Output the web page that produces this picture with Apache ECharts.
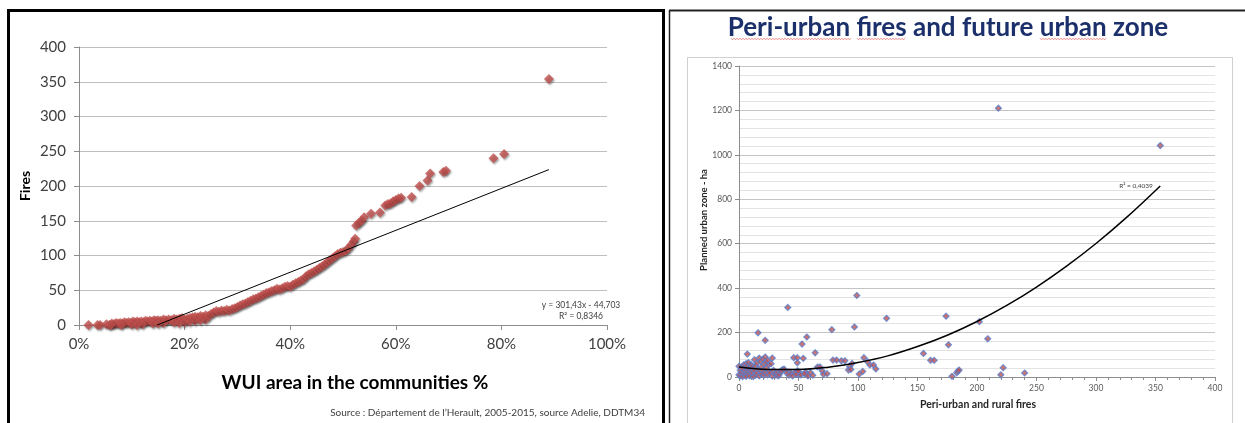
<!DOCTYPE html>
<html><head><meta charset="utf-8">
<script src="https://cdn.jsdelivr.net/npm/echarts@6/dist/echarts.min.js"></script>
<style>html,body{margin:0;padding:0;background:#fff}#c{width:1245px;height:423px}</style>
</head><body><div id="c"></div>
<script>
// ---------- Left chart: WUI share vs fires ----------
const wuiShare = [0.018,0.035,0.04,0.052,0.058,0.062,0.066,0.07,0.074,0.078,0.082,0.086,0.09,0.094,0.098,0.102,0.106,0.11,0.114,0.118,0.122,0.126,0.13,0.134,0.138,0.142,0.146,0.15,0.155,0.16,0.165,0.17,0.175,0.18,0.185,0.19,0.195,0.2,0.205,0.21,0.215,0.22,0.225,0.23,0.235,0.24,0.245,0.25,0.255,0.26,0.265,0.27,0.275,0.28,0.285,0.29,0.295,0.30,0.305,0.31,0.315,0.32,0.325,0.33,0.335,0.34,0.345,0.35,0.355,0.36,0.365,0.37,0.375,0.38,0.385,0.39,0.395,0.40,0.405,0.41,0.415,0.42,0.425,0.43,0.435,0.44,0.445,0.45,0.455,0.46,0.465,0.47,0.475,0.48,0.485,0.49,0.495,0.50,0.505,0.51,0.515,0.52,0.523,0.525,0.53,0.535,0.54,0.553,0.57,0.58,0.585,0.59,0.595,0.60,0.605,0.61,0.63,0.645,0.66,0.665,0.69,0.695,0.785,0.805,0.89,
  0.08,0.1,0.12,0.14,0.16,0.18,0.2,0.22,0.24,0.06,0.11,0.15,0.19,0.21,0.23];
const fireCount = [0,0,0,1,0,2,1,3,2,3,2,4,3,4,3,5,4,5,4,5,4,6,5,6,5,7,6,7,6,8,7,8,7,9,8,9,10,8,9,10,11,12,11,13,12,14,13,16,18,20,19,21,20,22,21,23,24,26,28,30,31,33,35,37,38,40,42,44,46,47,49,50,52,51,53,55,56,55,58,60,62,64,66,70,73,75,77,79,82,84,87,90,93,96,99,102,104,105,107,110,115,120,124,143,147,150,155,160,162,172,174,175,178,180,182,183,184,200,208,218,220,222,240,246,354,
  0,1,1,2,3,4,4,6,8,0,0,2,3,5,7];
const leftTrendX = [0.148, 0.89];
const leftTrendY = [0, 223.6];
const leftXTickLabels = ['0%','20%','40%','60%','80%','100%'];
const leftYTicks = [0,50,100,150,200,250,300,350,400];

// ---------- Right chart: peri-urban fires vs planned urban zone ----------
const periFires = [218,354,99,41,124,174,97,202,78,16,209,22,57,53,176,64,155,7,161,164,13,54,46,49,49,79,82,86,89,105,108,110,113,115,93,95,92,94,104,101,66,68,70,71,74,56,57,49,50,37,42,44,222,220,240,179,183,184,185,
  0,0,1,1,2,2,3,3,4,4,5,5,6,6,6,7,7,8,8,8,9,9,10,10,11,11,12,12,13,14,14,15,15,16,17,17,18,18,19,19,20,20,21,21,22,22,23,23,24,24,25,25,26,27,28,28,29,30,31,32,33,34,35,36,38,
  40,42,45,47,48,50,52,55,58,60,62];
const plannedZone = [1210,1042,367,313,264,274,225,249,213,199,172,165,180,148,145,109,106,103,75,75,78,84,87,87,64,76,76,73,73,87,69,54,54,36,46,61,31,34,25,13,45,45,27,12,15,22,12,28,9,34,22,16,42,10,18,3,19,27,31,
  48,10,30,5,20,45,2,38,15,55,8,28,60,40,3,22,50,12,35,65,5,42,25,55,15,48,2,38,28,8,50,18,62,35,5,85,25,70,12,45,80,30,8,58,90,20,65,40,10,75,55,25,18,60,5,85,30,15,8,20,5,12,25,30,35,
  18,8,5,20,12,25,10,15,5,20,8];
const rightTrendX = [0,25,50,75,100,125,150,175,200,225,250,275,300,325,354];
const rightTrendY = [45,34,34,44,65,95,137,188,250,322,405,498,601,715,860];
const rightXTicks = [0,50,100,150,200,250,300,350,400];
const rightYTicks = [0,200,400,600,800,1000,1200,1400];

const chart = echarts.init(document.getElementById('c'), null, {renderer:'canvas'});
const F = 'Lato, "Open Sans", sans-serif';

// wavy spell-check underline helper (decoration only)
function wavy(x1, x2, y){
  const pts = []; let up = true;
  for (let x = x1; x <= x2; x += 1.5){ pts.push([x, y + (up ? -0.8 : 0.8)]); up = !up; }
  return {type:'polyline', shape:{points:pts}, style:{stroke:'#e46c6c', lineWidth:0.8, fill:'none'}, silent:true};
}

const option = {
  animation:false,
  backgroundColor:'#fff',
  grid:[
    {left:79, top:47, width:528, height:278},
    {left:739, top:66, width:476, height:311}
  ],
  xAxis:[
    {gridIndex:0, type:'value', min:0, max:1, interval:0.2,
     axisLine:{show:true, lineStyle:{color:'#8c8c8c', width:1}},
     axisTick:{show:true, length:5, lineStyle:{color:'#8c8c8c'}},
     splitLine:{show:false},
     axisLabel:{fontFamily:F, fontSize:15, color:'#404040', margin:12,
       formatter:v=>leftXTickLabels[Math.round(v/0.2)]}},
    {gridIndex:1, type:'value', min:0, max:400, interval:50,
     axisLine:{show:true, lineStyle:{color:'#8c8c8c', width:1}},
     axisTick:{show:true, length:4, lineStyle:{color:'#8c8c8c'}},
     minorTick:{show:true, splitNumber:5, length:3, lineStyle:{color:'#8c8c8c'}},
     splitLine:{show:false},
     axisLabel:{fontFamily:F, fontSize:8.5, color:'#595959', margin:7,
       formatter:v=>String(rightXTicks[Math.round(v/50)])}}
  ],
  yAxis:[
    {gridIndex:0, type:'value', min:0, max:400, interval:50,
     axisLine:{show:true, lineStyle:{color:'#8c8c8c', width:1}},
     axisTick:{show:true, length:5, lineStyle:{color:'#8c8c8c'}},
     splitLine:{show:true, lineStyle:{color:'#bfbfbf', width:1}},
     axisLabel:{fontFamily:F, fontSize:15, color:'#404040', margin:13,
       formatter:v=>String(leftYTicks[Math.round(v/50)])}},
    {gridIndex:1, type:'value', min:0, max:1400, interval:200,
     axisLine:{show:true, lineStyle:{color:'#8c8c8c', width:1}},
     axisTick:{show:true, length:4, lineStyle:{color:'#8c8c8c'}},
     minorTick:{show:false, splitNumber:5},
     splitLine:{show:true, lineStyle:{color:'#c4c4c4', width:1}},
     minorSplitLine:{show:true, lineStyle:{color:'#e3e3e3', width:1}},
     axisLabel:{fontFamily:F, fontSize:8.5, color:'#595959', margin:7,
       formatter:v=>String(rightYTicks[Math.round(v/200)])}}
  ],
  series:[
    {type:'scatter', xAxisIndex:0, yAxisIndex:0, symbol:'diamond', symbolSize:10,
     data:wuiShare.map((x,i)=>[x, fireCount[i]]),
     itemStyle:{color:'#c0504d', shadowColor:'rgba(0,0,0,0.45)', shadowBlur:2, shadowOffsetX:1, shadowOffsetY:1.5}, z:3},
    {type:'line', xAxisIndex:0, yAxisIndex:0, symbol:'none',
     data:leftTrendX.map((x,i)=>[x, leftTrendY[i]]),
     lineStyle:{color:'#000', width:1}, z:4},
    {type:'scatter', xAxisIndex:1, yAxisIndex:1, symbol:'diamond', symbolSize:6,
     data:periFires.map((x,i)=>[x, plannedZone[i]]),
     itemStyle:{color:'#c0504d', borderColor:'#5a7fcc', borderWidth:1.2}, z:3},
    {type:'line', xAxisIndex:1, yAxisIndex:1, symbol:'none', smooth:0.4,
     data:rightTrendX.map((x,i)=>[x, rightTrendY[i]]),
     lineStyle:{color:'#000', width:1.5}, z:4}
  ],
  graphic:[
    {type:'rect', shape:{x:8.5, y:10.5, width:655, height:430}, style:{fill:'none', stroke:'#000', lineWidth:3}, silent:true},
    {type:'line', shape:{x1:669, y1:10.5, x2:1245, y2:10.5}, style:{stroke:'#222', lineWidth:2}, silent:true},
    {type:'line', shape:{x1:669.5, y1:10, x2:669.5, y2:423}, style:{stroke:'#222', lineWidth:1.5}, silent:true},
    {type:'rect', shape:{x:687.5, y:57.5, width:545, height:380}, style:{fill:'none', stroke:'#d0d0d0', lineWidth:1}, silent:true},
    {type:'text', x:25, y:186, rotation:Math.PI/2,
     style:{text:'Fires', font:'bold 14px '+F, fill:'#000', textAlign:'center', textVerticalAlign:'middle'}},
    {type:'text', x:355, y:383,
     style:{text:'WUI area in the communities %', font:'bold 19px '+F, fill:'#000', textAlign:'center', textVerticalAlign:'middle'}},
    {type:'text', x:645, y:413,
     style:{text:'Source : Département de l\u2019Herault, 2005-2015, source Adelie, DDTM34', font:'10px '+F, fill:'#404040', textAlign:'right', textVerticalAlign:'middle'}},
    {type:'text', x:581, y:305,
     style:{text:'y = 301,43x - 44,703', font:'8.5px '+F, fill:'#404040', textAlign:'center', textVerticalAlign:'middle'}},
    {type:'text', x:603, y:316,
     style:{text:'R² = 0,8346', font:'8.5px '+F, fill:'#404040', textAlign:'right', textVerticalAlign:'middle'}},
    {type:'text', x:948, y:28,
     style:{text:'Peri-urban fires and future urban zone', font:'bold 26px '+F, fill:'#1b2f6b', textAlign:'center', textVerticalAlign:'middle'}},
    wavy(731, 851, 39), wavy(857, 906, 39), wavy(1040, 1107, 39),
    {type:'text', x:704, y:220, rotation:Math.PI/2,
     style:{text:'Planned urban zone - ha', font:'bold 9.5px '+F, fill:'#262626', textAlign:'center', textVerticalAlign:'middle'}},
    {type:'text', x:978, y:405,
     style:{text:'Peri-urban and rural fires', font:'bold 10.5px '+F, fill:'#262626', textAlign:'center', textVerticalAlign:'middle'}},
    {type:'text', x:1136, y:186,
     style:{text:'R² = 0,4039', font:'6.5px '+F, fill:'#404040', textAlign:'center', textVerticalAlign:'middle'}}
  ]
};
chart.setOption(option);
</script>
</body></html>
